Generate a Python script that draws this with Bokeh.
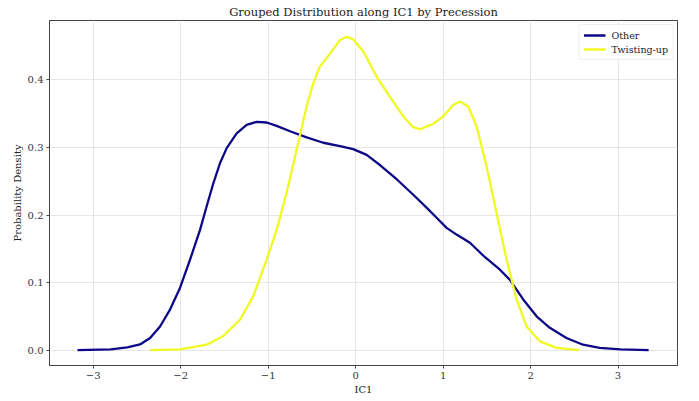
from bokeh.plotting import figure
from bokeh.models import Range1d, FixedTicker, Legend, LegendItem
from bokeh.embed import file_html
from bokeh.resources import INLINE

other_x = [-3.18, -2.80, -2.61, -2.465, -2.35, -2.236, -2.122, -2.008, -1.893, -1.779, -1.703,
           -1.627, -1.550, -1.474, -1.36, -1.246, -1.131, -1.017, -0.903, -0.75, -0.56, -0.37,
           -0.179, -0.027, 0.126, 0.278, 0.469, 0.659, 0.811, 0.926, 1.04, 1.154, 1.307, 1.459,
           1.65, 1.764, 1.916, 2.069, 2.22, 2.41, 2.60, 2.79, 3.03, 3.35]
other_y = [0.0, 0.001, 0.004, 0.0084, 0.018, 0.035, 0.060, 0.092, 0.134, 0.178, 0.213,
           0.247, 0.277, 0.299, 0.321, 0.3335, 0.338, 0.337, 0.332, 0.324, 0.315, 0.307,
           0.302, 0.2975, 0.289, 0.274, 0.253, 0.230, 0.211, 0.196, 0.181, 0.171, 0.159, 0.140,
           0.119, 0.104, 0.075, 0.050, 0.033, 0.018, 0.008, 0.0034, 0.0012, 0.0]

tw_x = [-2.35, -2.008, -1.703, -1.512, -1.322, -1.17, -1.017, -0.903, -0.789, -0.674, -0.56,
        -0.484, -0.408, -0.293, -0.179, -0.103, -0.027, 0.088, 0.24, 0.392, 0.545, 0.659,
        0.735, 0.888, 1.002, 1.116, 1.192, 1.288, 1.383, 1.497, 1.611, 1.726, 1.84, 1.954,
        2.107, 2.297, 2.556]
tw_y = [0.0, 0.001, 0.008, 0.021, 0.045, 0.080, 0.134, 0.178, 0.233, 0.297, 0.361,
        0.395, 0.420, 0.439, 0.459, 0.464, 0.460, 0.442, 0.405, 0.375, 0.346, 0.330,
        0.327, 0.335, 0.346, 0.363, 0.368, 0.3606, 0.331, 0.272, 0.203, 0.134, 0.075, 0.035,
        0.013, 0.0034, 0.0]

x_ticks = [-3, -2, -1, 0, 1, 2, 3]
y_ticks = [0.0, 0.1, 0.2, 0.3, 0.4]

FONT = "DejaVu Serif"

p = figure(width=699, height=401, output_backend="svg", toolbar_location=None,
           x_range=Range1d(-3.50, 3.68), y_range=Range1d(-0.0228, 0.488),
           title="Grouped Distribution along IC1 by Precession",
           min_border_left=49, min_border_right=22, min_border_top=0, min_border_bottom=36)

p.title.align = "center"
p.title.text_font = FONT
p.title.text_font_size = "11.5px"
p.title.text_font_style = "normal"
p.title.text_color = "#222222"
p.title.standoff = 4

r1 = p.line(other_x, other_y, line_color="#0d0887", line_width=2.3, line_join="round")
r2 = p.line(tw_x, tw_y, line_color="#f0f921", line_width=2.3, line_join="round")

for ax in (p.xaxis[0], p.yaxis[0]):
    ax.major_label_text_font = FONT
    ax.major_label_text_font_size = "10px"
    ax.major_label_text_color = "#333333"
    ax.axis_label_text_font = FONT
    ax.axis_label_text_font_size = "10px"
    ax.axis_label_text_font_style = "normal"
    ax.axis_label_text_color = "#222222"
    ax.axis_line_color = "#444444"
    ax.major_tick_line_color = "#444444"
    ax.major_tick_out = 3
    ax.major_tick_in = 0
    ax.minor_tick_line_color = None
    ax.major_label_standoff = 3

p.xaxis.axis_label = "IC1"
p.yaxis.axis_label = "Probability Density"
p.xaxis.ticker = FixedTicker(ticks=x_ticks)
p.yaxis.ticker = FixedTicker(ticks=y_ticks)
p.xaxis.major_label_overrides = {t: ("\u2212" + str(abs(t)) if t < 0 else str(t)) for t in x_ticks}
p.yaxis.major_label_overrides = {t: f"{t:.1f}" for t in y_ticks}
p.xaxis.axis_label_standoff = 2
p.yaxis.axis_label_standoff = 2

p.grid.grid_line_color = "#e6e6e6"
p.grid.grid_line_width = 1
p.outline_line_color = "#444444"
p.outline_line_width = 1

legend = Legend(items=[LegendItem(label="Other", renderers=[r1]),
                       LegendItem(label="Twisting-up", renderers=[r2])],
                location="top_right")
legend.label_text_font = FONT
legend.label_text_font_size = "9.5px"
legend.label_text_color = "#222222"
legend.glyph_width = 22
legend.glyph_height = 12
legend.label_height = 12
legend.label_standoff = 6
legend.spacing = 2
legend.padding = 4
legend.margin = 4
legend.border_line_color = "#dddddd"
legend.border_radius = 3
legend.background_fill_alpha = 0.8
p.add_layout(legend)

open("out.html", "w").write(file_html(p, INLINE))
